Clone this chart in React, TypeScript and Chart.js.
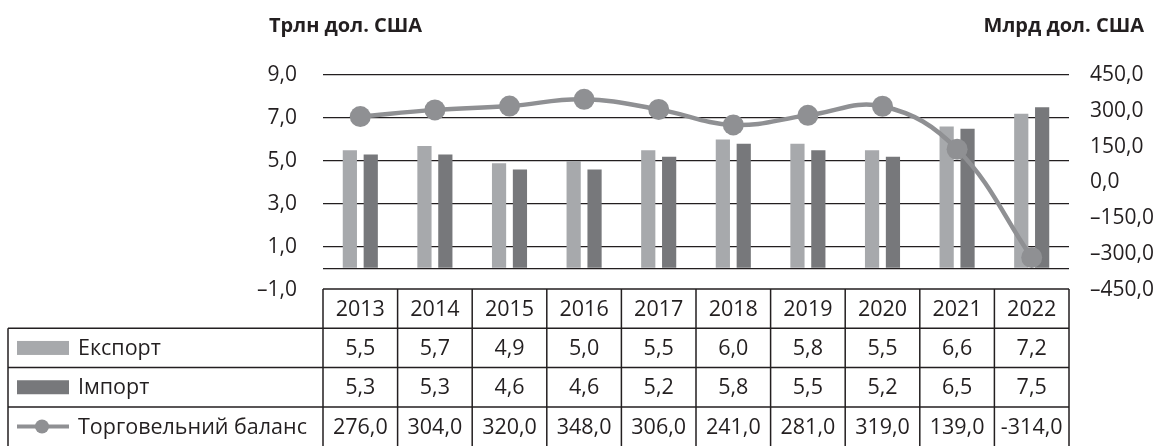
import React, { useEffect, useRef } from 'react';
import { Chart, registerables } from 'chart.js';

Chart.register(...registerables);

const years = ['2013', '2014', '2015', '2016', '2017', '2018', '2019', '2020', '2021', '2022'];
const exportVals = [5.5, 5.7, 4.9, 5.0, 5.5, 6.0, 5.8, 5.5, 6.6, 7.2];
const importVals = [5.3, 5.3, 4.6, 4.6, 5.2, 5.8, 5.5, 5.2, 6.5, 7.5];
const balanceVals = [276.0, 304.0, 320.0, 348.0, 306.0, 241.0, 281.0, 319.0, 139.0, -314.0];
const leftTicks = [-1, 0, 1, 3, 5, 7, 9];
const rightTicks = [-450, -300, -150, 0, 150, 300, 450];
const seriesNames = ['Експорт', 'Імпорт', 'Торговельний баланс'];
const leftTitle = 'Трлн дол. США';
const rightTitle = 'Млрд дол. США';

const TEXT = '#231f20';
const EXPORT_C = '#a7a9ac';
const IMPORT_C = '#77787b';
const LINE_C = '#8f9093';
const FONT = '"Open Sans", "Noto Sans", sans-serif';

const fmt = (v: number) => v.toFixed(1).replace('.', ',');
const fmtAxis = (v: number) => (v < 0 ? '–' + fmt(-v) : fmt(v));

const tablePlugin = {
  id: 'tablePlugin',
  afterDraw(chart: any) {
    const ctx = chart.ctx as CanvasRenderingContext2D;
    const area = chart.chartArea;
    const xs = chart.scales.x;
    const n = years.length;
    const w = (area.right - area.left) / n;
    const top = area.bottom - 1;
    const rowH = 39.3;
    const rows = [top, top + rowH, top + 2 * rowH, top + 3 * rowH, top + 4 * rowH];
    const tableLeft = 8;
    const H = chart.height;
    ctx.save();
    // titles
    ctx.fillStyle = TEXT;
    ctx.font = `bold 20px ${FONT}`;
    ctx.textBaseline = 'alphabetic';
    ctx.textAlign = 'left';
    ctx.fillText(leftTitle, 269, 32);
    ctx.textAlign = 'right';
    ctx.fillText(rightTitle, 1144, 32);

    // lines
    ctx.strokeStyle = TEXT;
    ctx.lineWidth = 1.5;
    ctx.beginPath();
    ctx.moveTo(area.left, rows[0]);
    ctx.lineTo(area.right, rows[0]);
    for (let r = 1; r <= 3; r++) {
      ctx.moveTo(tableLeft, rows[r]);
      ctx.lineTo(area.right, rows[r]);
    }
    for (let i = 0; i <= n; i++) {
      const x = area.left + i * w;
      ctx.moveTo(x, rows[0]);
      ctx.lineTo(x, H + 2);
    }
    ctx.moveTo(tableLeft, rows[1]);
    ctx.lineTo(tableLeft, H + 2);
    ctx.stroke();

    // text
    ctx.font = `21.5px ${FONT}`;
    ctx.textBaseline = 'middle';
    ctx.textAlign = 'center';
    const rowVals = [exportVals, importVals, balanceVals];
    for (let i = 0; i < n; i++) {
      const cx = xs.getPixelForValue(i);
      ctx.fillText(years[i], cx, (rows[0] + rows[1]) / 2 + 1);
      for (let r = 0; r < 3; r++) {
        ctx.fillText(fmt(rowVals[r][i]), cx, (rows[r + 1] + rows[r + 2]) / 2 + 1);
      }
    }
    ctx.textAlign = 'left';
    for (let r = 0; r < 3; r++) {
      const cy = (rows[r + 1] + rows[r + 2]) / 2;
      ctx.fillStyle = TEXT;
      ctx.fillText(seriesNames[r], 78, cy + 1);
      if (r < 2) {
        ctx.fillStyle = r === 0 ? EXPORT_C : IMPORT_C;
        ctx.fillRect(17, cy - 7, 52, 14);
      } else {
        ctx.strokeStyle = LINE_C;
        ctx.lineWidth = 4;
        ctx.beginPath();
        ctx.moveTo(17, cy);
        ctx.lineTo(69, cy);
        ctx.stroke();
        ctx.fillStyle = LINE_C;
        ctx.beginPath();
        ctx.arc(42, cy, 7, 0, Math.PI * 2);
        ctx.fill();
      }
    }
    ctx.restore();
  },
};

export default function App() {
  const ref = useRef<HTMLCanvasElement | null>(null);
  useEffect(() => {
    if (!ref.current) return;
    const chart = new Chart(ref.current, {
      type: 'bar',
      data: {
        labels: years,
        datasets: [
          {
            type: 'line',
            label: seriesNames[2],
            data: balanceVals,
            yAxisID: 'y2',
            borderColor: LINE_C,
            backgroundColor: LINE_C,
            borderWidth: 4.5,
            pointRadius: 10.5,
            pointBackgroundColor: LINE_C,
            pointBorderWidth: 0,
            tension: 0.4,
            order: 0,
            clip: false,
          } as any,
          {
            label: seriesNames[0],
            data: exportVals,
            backgroundColor: EXPORT_C,
            yAxisID: 'y',
            categoryPercentage: 0.56,
            barPercentage: 0.68,
            order: 1,
          },
          {
            label: seriesNames[1],
            data: importVals,
            backgroundColor: IMPORT_C,
            yAxisID: 'y',
            categoryPercentage: 0.56,
            barPercentage: 0.68,
            order: 1,
          },
        ],
      },
      options: {
        animation: false,
        responsive: false,
        events: [],
        layout: { padding: { left: 0, right: 0, top: 75, bottom: 156 } },
        plugins: { legend: { display: false }, tooltip: { enabled: false } },
        scales: {
          x: { display: false, offset: true },
          y: {
            position: 'left',
            min: -1,
            max: 9,
            afterBuildTicks: (s: any) => {
              s.ticks = leftTicks.map((v) => ({ value: v }));
            },
            afterFit: (s: any) => {
              s.width = 323;
            },
            border: { display: false },
            grid: {
              drawTicks: false,
              lineWidth: 1.3,
              color: (c: any) => (c.tick && c.tick.value === -1 ? 'rgba(0,0,0,0)' : TEXT),
            },
            ticks: {
              padding: 26,
              color: TEXT,
              font: { family: FONT, size: 21 },
              callback: (v: any) => (v === 0 ? '' : fmtAxis(Number(v))),
            },
          },
          y2: {
            position: 'right',
            min: -450,
            max: 450,
            afterBuildTicks: (s: any) => {
              s.ticks = rightTicks.map((v) => ({ value: v }));
            },
            afterFit: (s: any) => {
              s.width = 1155 - 1069;
            },
            border: { display: false },
            grid: { display: false, drawTicks: false },
            ticks: {
              padding: 21,
              color: TEXT,
              font: { family: FONT, size: 21 },
              callback: (v: any) => fmtAxis(Number(v)),
            },
          },
        },
      },
      plugins: [tablePlugin],
    });
    return () => chart.destroy();
  }, []);
  return (
    <div style={{ position: 'absolute', left: 0, top: 0, width: 1155, height: 446, background: '#fff' }}>
      <canvas ref={ref} width={1155} height={446} style={{ display: 'block' }} />
    </div>
  );
}
